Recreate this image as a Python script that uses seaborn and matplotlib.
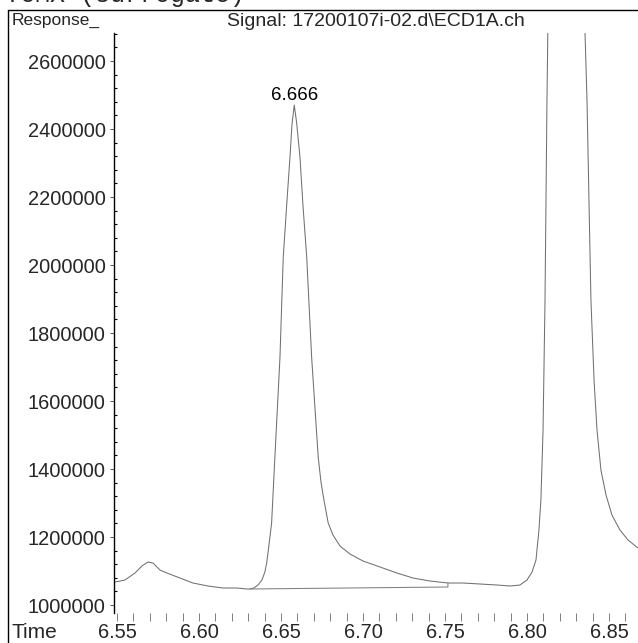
import numpy as np
import pandas as pd
import matplotlib
matplotlib.use("Agg")
import matplotlib.pyplot as plt
from matplotlib.lines import Line2D
from matplotlib.ticker import MultipleLocator
import seaborn as sns

# chromatogram trace (time in min, response in counts)
time_min = [6.5488, 6.5549, 6.5610, 6.5652, 6.5689, 6.5720, 6.5762, 6.5805,
            6.5884, 6.5963, 6.6055, 6.6146, 6.6232, 6.6293, 6.6311, 6.6335,
            6.6360, 6.6384, 6.6402, 6.6413, 6.6427, 6.6443, 6.6463, 6.6494,
            6.6514, 6.6537, 6.6555, 6.6567, 6.6581, 6.6595, 6.6616, 6.6634,
            6.6657, 6.6687, 6.6727, 6.6744, 6.6762, 6.6788, 6.6817, 6.6860,
            6.6921, 6.7000, 6.7104, 6.7207, 6.7305, 6.7409, 6.7518, 6.7610,
            6.7713, 6.7817, 6.7896, 6.7957, 6.8000, 6.8031, 6.8055, 6.8073,
            6.8085, 6.8098, 6.8110, 6.8116, 6.8122, 6.8128, 6.8238, 6.8348,
            6.8354, 6.8366, 6.8378, 6.8390, 6.8409, 6.8427, 6.8451, 6.8482,
            6.8518, 6.8567, 6.8616, 6.8677, 6.8720]
response = [1067600, 1073500, 1094100, 1114700, 1126500, 1123500, 1102900, 1094100,
            1079400, 1064700, 1055900, 1050000, 1050000, 1047100, 1047100, 1050000,
            1058800, 1073500, 1097100, 1123500, 1176500, 1241200, 1435300, 1729400,
            2023500, 2191200, 2317600, 2411800, 2470600, 2420600, 2317600, 2176500,
            2023500, 1729400, 1435300, 1361800, 1308800, 1241200, 1205900, 1173500,
            1150000, 1129400, 1111800, 1094100, 1079400, 1070600, 1064700, 1064700,
            1061800, 1058800, 1055900, 1058800, 1073500, 1097100, 1132400, 1220600,
            1308800, 1514700, 1897100, 2191200, 2485300, 2720600, 3955900, 2720600,
            2682400, 2485300, 2191200, 1897100, 1661800, 1514700, 1397100, 1323500,
            1264700, 1220600, 1191200, 1167600, 1155900]

# integration baseline of the labelled peak
base_time = [6.6311, 6.7518, 6.7518]
base_resp = [1047100, 1053000, 1064700]

peak_label = "6.666"
peak_apex = (6.6581, 2470600)

y_ticks = [1000000, 1200000, 1400000, 1600000, 1800000, 2000000, 2200000, 2400000, 2600000]
x_ticks = [6.55, 6.60, 6.65, 6.70, 6.75, 6.80, 6.85]

sns.set_style("white")
plt.rcParams['font.family'] = ['Liberation Sans', 'DejaVu Sans']

W, H = 638, 643
fig = plt.figure(figsize=(W / 100, H / 100), dpi=100)
ax = fig.add_axes([114 / W, (H - 613) / H, (W - 114) / W, 580 / H])

df = pd.DataFrame({"time": time_min, "resp": response})
sns.lineplot(data=df, x="time", y="resp", ax=ax, sort=False, estimator=None,
             color="#707070", linewidth=0.75)
sns.lineplot(x=base_time, y=base_resp, ax=ax, sort=False, estimator=None,
             color="#808080", linewidth=0.75)

ax.set_xlim(6.5482, 6.8677)
ax.set_ylim(976500, 2682400)
ax.set_xlabel("")
ax.set_ylabel("")

ax.set_xticks(x_ticks)
ax.set_xticklabels([f"{v:.2f}" for v in x_ticks])
ax.xaxis.set_minor_locator(MultipleLocator(0.01))
ax.set_yticks(y_ticks)
ax.set_yticklabels([str(v) for v in y_ticks])
ax.yaxis.set_minor_locator(MultipleLocator(40000))

ax.tick_params(axis="x", which="both", direction="out", length=5.5, width=0.7,
               color="#808080", pad=1.5, labelsize=14.4, bottom=True)
ax.tick_params(axis="y", which="major", direction="out", length=3, width=0.7,
               color="#555555", pad=3, labelsize=14.4, left=True)
ax.tick_params(axis="y", which="minor", direction="in", length=2, width=0.8,
               color="black", left=True)

for s in ["top", "right", "bottom"]:
    ax.spines[s].set_visible(False)
ax.spines["left"].set_color("black")
ax.spines["left"].set_linewidth(1.0)

ax.text(peak_apex[0], peak_apex[1] + 15000, peak_label, ha="center", va="baseline",
        fontsize=13.5, color="black")

# outer frame and header texts
fig.add_artist(Line2D([8 / W, 8 / W], [0, 1 - 10 / H], color="black", linewidth=1.0))
fig.add_artist(Line2D([8 / W, 1], [1 - 10 / H, 1 - 10 / H], color="black", linewidth=1.0))
fig.text(12 / W, 1 - 13 / H, "Response_", ha="left", va="top", fontsize=12.5)
fig.text(376 / W, 1 - 13 / H, "Signal: 17200107i-02.d\\ECD1A.ch", ha="center", va="top",
         fontsize=14)
fig.text(12 / W, 1 - 638 / H, "Time", ha="left", va="baseline", fontsize=15)
fig.text(245 / W, 1 - 2 / H, "TCMX (surrogate)", ha="right", va="baseline",
         fontsize=18, family=["Liberation Mono", "DejaVu Sans Mono"])

fig.savefig("out.png", dpi=100)
